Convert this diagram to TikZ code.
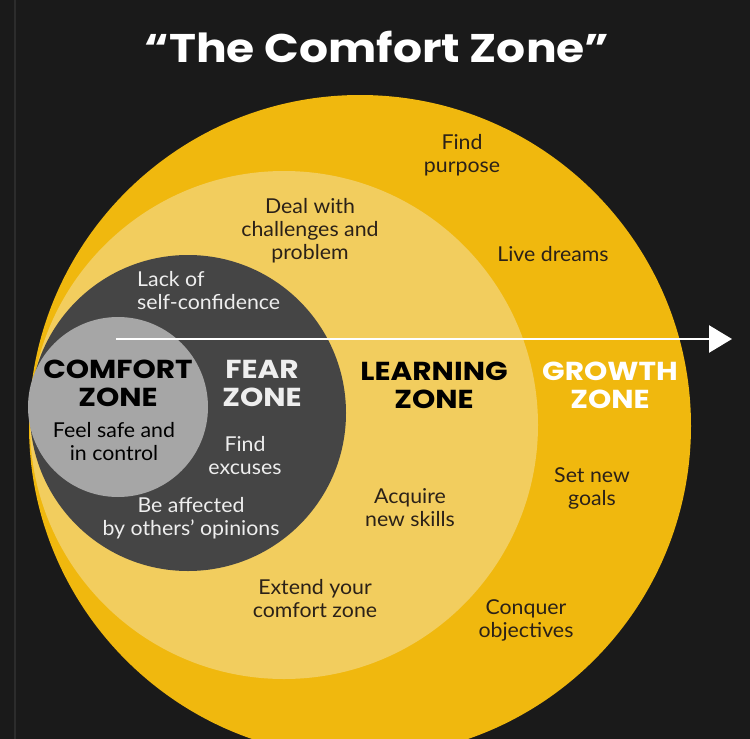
\documentclass[tikz,border=0pt]{standalone}
\usepackage{fontspec}
\setmainfont{Lato}[FakeStretch=1.04]
\newfontfamily\headfont{Poppins}[FakeStretch=1.14]
\usetikzlibrary{positioning,arrows.meta}

\definecolor{bgdark}{HTML}{1A1A1A}
\definecolor{edgegray}{HTML}{2C2C2C}
\definecolor{growth}{HTML}{F0B80E}
\definecolor{learning}{HTML}{F2CD5E}
\definecolor{fear}{HTML}{454545}
\definecolor{comfort}{HTML}{A6A6A6}
\definecolor{textdark}{HTML}{2B2118}
\definecolor{textlight}{HTML}{EEEEEE}

\tikzset{
  zone/.style={font=\headfont\bfseries\fontsize{26}{28}\selectfont,align=center,inner sep=0pt},
  note/.style={font=\fontsize{20.5}{23}\selectfont,align=center,text=textdark,inner sep=0pt}
}

\begin{document}
\begin{tikzpicture}[x=1pt,y=-1pt,>=Latex]
  \clip (0,0) rectangle (750,739);
  \fill[bgdark] (0,0) rectangle (750,739);
  \draw[edgegray,line width=1.5pt] (15,0) -- (15,739);

  % the four zones
  \fill[growth] (360,426) circle[radius=331];
  \fill[learning] (284,425) circle[radius=254];
  \fill[fear] (188,413) circle[radius=158];
  \fill[comfort] (118,407) circle[radius=90];

  \node[font=\headfont\bfseries\fontsize{40}{44}\selectfont,text=white,anchor=base] (title) at (377,62) {“The Comfort Zone”};

  \node[zone,text=black] (comfortlbl) at (118,383) {COMFORT\\ZONE};
  \node[zone,text=textlight] (fearlbl) at (262,383) {FEAR\\ZONE};
  \node[zone,text=black] (learnlbl) at (434,385) {LEARNING\\ZONE};
  \node[zone,text=white] (growthlbl) at (610,385) {GROWTH\\ZONE};

  \node[note,text=black] (safe) at (114,442) {Feel safe and\\in control};
  \node[note,text=textlight,align=left,anchor=west] (lack) at (137,291) {Lack of\\self-confidence};
  \node[note,text=textlight] (excuses) at (245,456) {Find\\excuses};
  \node[note,text=textlight] (affected) at (191,518) {Be affected\\by others’ opinions};

  \node[note] (deal) at (310,231) {Deal with\\challenges and\\problem};
  \node[note] (skills) at (410,508) {Acquire\\new skills};
  \node[note] (extend) at (315,599) {Extend your\\comfort zone};

  \node[note] (purpose) at (462,155) {Find\\purpose};
  \node[note] (dreams) at (553,254) {Live dreams};
  \node[note] (goals) at (592,488) {Set new\\goals};
  \node[note] (conquer) at (526,620) {Conquer\\objectives};

  % way out of the comfort zone
  \coordinate (start) at (116,339);
  \coordinate (tip) at (732,339);
  \draw[-{Triangle[length=23pt,width=27pt]},white,line width=2.5pt] (start) -- (tip);
\end{tikzpicture}
\end{document}
